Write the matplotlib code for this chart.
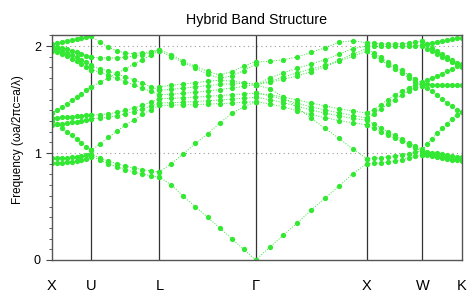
import numpy as np
import matplotlib
matplotlib.use("Agg")
import matplotlib.pyplot as plt

plt.rcParams['font.family'] = ['Liberation Sans', 'DejaVu Sans']

# High-symmetry path (FCC), labels and k coordinates (units of 2*pi/a)
point_labels = ['X', 'U', 'L', 'Γ', 'X', 'W', 'K']
point_coords = [(1, 0, 0), (1, 0.25, 0.25), (0.5, 0.5, 0.5), (0, 0, 0),
                (1, 0, 0), (1, 0.5, 0), (0.75, 0.75, 0)]

# Band frequencies (omega a / 2 pi c) read at 9 samples along each segment
seg_XU = [
    [0.905, 0.906, 0.909, 0.914, 0.920, 0.928, 0.937, 0.948, 0.960],
    [0.950, 0.951, 0.953, 0.956, 0.960, 0.965, 0.971, 0.978, 0.985],
    [1.300, 1.268, 1.235, 1.200, 1.165, 1.130, 1.095, 1.060, 1.025],
    [1.264, 1.268, 1.273, 1.279, 1.286, 1.294, 1.303, 1.312, 1.322],
    [1.327, 1.329, 1.332, 1.335, 1.339, 1.343, 1.347, 1.351, 1.355],
    [1.374, 1.400, 1.430, 1.460, 1.492, 1.523, 1.555, 1.588, 1.620],
    [2.000, 1.995, 1.985, 1.970, 1.955, 1.940, 1.925, 1.910, 1.895],
    [1.975, 1.968, 1.955, 1.937, 1.915, 1.893, 1.870, 1.848, 1.825],
    [1.950, 1.942, 1.927, 1.906, 1.881, 1.856, 1.830, 1.805, 1.780],
    [2.020, 2.028, 2.038, 2.050, 2.060, 2.070, 2.078, 2.085, 2.090],
]
seg_UL = [
    [0.970, 0.935, 0.900, 0.870, 0.845, 0.822, 0.803, 0.788, 0.776],
    [0.990, 0.955, 0.925, 0.900, 0.877, 0.860, 0.845, 0.833, 0.825],
    [1.025, 1.085, 1.145, 1.205, 1.260, 1.310, 1.360, 1.405, 1.445],
    [1.322, 1.326, 1.334, 1.348, 1.366, 1.387, 1.411, 1.438, 1.467],
    [1.355, 1.359, 1.367, 1.380, 1.398, 1.420, 1.446, 1.476, 1.508],
    [1.620, 1.662, 1.703, 1.745, 1.788, 1.830, 1.872, 1.915, 1.955],
    [1.810, 1.788, 1.765, 1.740, 1.712, 1.682, 1.652, 1.620, 1.586],
    [1.780, 1.755, 1.727, 1.698, 1.667, 1.637, 1.606, 1.576, 1.545],
    [2.090, 2.035, 1.990, 1.955, 1.935, 1.930, 1.935, 1.948, 1.965],
    [1.895, 1.890, 1.888, 1.890, 1.895, 1.905, 1.920, 1.940, 1.965],
]
seg_LG = [
    [0.776, 0.700, 0.596, 0.497, 0.400, 0.300, 0.200, 0.100, 0.000],
    [0.825, 0.900, 0.995, 1.090, 1.180, 1.277, 1.370, 1.430, 1.480],
    [1.445, 1.447, 1.450, 1.453, 1.457, 1.462, 1.467, 1.473, 1.480],
    [1.467, 1.470, 1.475, 1.481, 1.488, 1.496, 1.504, 1.512, 1.520],
    [1.508, 1.511, 1.516, 1.522, 1.529, 1.537, 1.545, 1.552, 1.560],
    [1.545, 1.550, 1.558, 1.568, 1.580, 1.593, 1.607, 1.622, 1.640],
    [1.586, 1.595, 1.606, 1.618, 1.630, 1.641, 1.648, 1.650, 1.645],
    [1.620, 1.632, 1.645, 1.658, 1.670, 1.680, 1.672, 1.658, 1.640],
    [1.965, 1.920, 1.857, 1.810, 1.763, 1.730, 1.760, 1.810, 1.855],
    [1.955, 1.900, 1.845, 1.790, 1.740, 1.700, 1.720, 1.770, 1.830],
]
seg_GX = [
    [0.000, 0.118, 0.233, 0.348, 0.466, 0.580, 0.690, 0.808, 0.900],
    [1.640, 1.600, 1.525, 1.425, 1.325, 1.230, 1.137, 1.037, 0.948],
    [1.480, 1.460, 1.430, 1.395, 1.360, 1.330, 1.303, 1.282, 1.264],
    [1.520, 1.500, 1.470, 1.437, 1.403, 1.372, 1.347, 1.324, 1.306],
    [1.560, 1.535, 1.500, 1.465, 1.432, 1.402, 1.375, 1.350, 1.327],
    [1.560, 1.545, 1.522, 1.496, 1.467, 1.440, 1.414, 1.392, 1.374],
    [1.850, 1.857, 1.872, 1.897, 1.940, 1.985, 2.035, 2.050, 2.030],
    [1.640, 1.700, 1.750, 1.792, 1.832, 1.872, 1.925, 1.975, 2.000],
    [1.640, 1.670, 1.710, 1.750, 1.785, 1.820, 1.865, 1.925, 1.975],
    [1.640, 1.660, 1.690, 1.720, 1.760, 1.808, 1.858, 1.905, 1.950],
]
seg_XW = [
    [0.900, 0.903, 0.908, 0.915, 0.925, 0.938, 0.952, 0.968, 0.985],
    [0.948, 0.951, 0.956, 0.963, 0.972, 0.983, 0.995, 1.008, 1.020],
    [1.264, 1.234, 1.200, 1.170, 1.140, 1.110, 1.077, 1.047, 1.016],
    [1.306, 1.270, 1.235, 1.200, 1.165, 1.130, 1.097, 1.065, 1.035],
    [1.374, 1.405, 1.450, 1.498, 1.545, 1.577, 1.607, 1.638, 1.654],
    [1.327, 1.365, 1.410, 1.455, 1.500, 1.540, 1.575, 1.605, 1.625],
    [2.000, 1.998, 1.996, 1.996, 1.996, 1.996, 1.998, 2.002, 2.010],
    [1.975, 1.935, 1.893, 1.852, 1.812, 1.772, 1.733, 1.693, 1.654],
    [1.950, 1.910, 1.868, 1.827, 1.786, 1.745, 1.705, 1.665, 1.625],
    [2.030, 2.025, 2.020, 2.018, 2.018, 2.020, 2.025, 2.033, 2.045],
]
seg_WK = [
    [2.010, 2.020, 2.030, 2.040, 2.050, 2.058, 2.065, 2.072, 2.078],
    [2.000, 1.975, 1.950, 1.925, 1.900, 1.875, 1.850, 1.828, 1.805],
    [2.045, 2.015, 1.985, 1.955, 1.925, 1.897, 1.870, 1.845, 1.822],
    [1.660, 1.680, 1.700, 1.720, 1.742, 1.765, 1.788, 1.810, 1.830],
    [1.650, 1.645, 1.640, 1.638, 1.636, 1.635, 1.635, 1.635, 1.635],
    [1.640, 1.610, 1.575, 1.540, 1.505, 1.470, 1.435, 1.405, 1.380],
    [1.030, 1.085, 1.135, 1.185, 1.230, 1.275, 1.320, 1.355, 1.380],
    [1.020, 1.012, 1.004, 0.996, 0.988, 0.980, 0.972, 0.965, 0.960],
    [0.995, 0.987, 0.979, 0.971, 0.963, 0.955, 0.948, 0.942, 0.937],
    [0.985, 0.978, 0.970, 0.962, 0.953, 0.944, 0.936, 0.930, 0.925],
]
segments = [seg_XU, seg_UL, seg_LG, seg_GX, seg_XW, seg_WK]

# Path positions from k-space distances
pts = np.array(point_coords, dtype=float)
dist = np.concatenate([[0], np.cumsum(np.linalg.norm(np.diff(pts, axis=0), axis=1))])

green = '#33e833'
fig = plt.figure(figsize=(4.68, 2.93), dpi=100)
ax = fig.add_axes([52 / 468, 1 - 260 / 293, (461.7 - 52) / 468, (260 - 35) / 293])

for i, seg in enumerate(segments):
    for band in seg:
        xs = np.linspace(dist[i], dist[i + 1], len(band))
        ax.plot(xs, band, linestyle=':', linewidth=0.7, color=green,
                marker='o', markersize=3.8, markerfacecolor=green,
                markeredgecolor=green, markeredgewidth=0, clip_on=True)

for d in dist[1:-1]:
    ax.axvline(d, color='#333333', linewidth=0.9, zorder=1)
for yv in (1, 2):
    ax.axhline(yv, color='#999999', linewidth=0.8, linestyle=(0, (1, 3)), zorder=0)

ax.set_xlim(dist[0], dist[-1])
ax.set_ylim(0, 2.103)
ax.set_xticks(dist)
ax.set_xticklabels(point_labels, fontsize=10.5)
ax.tick_params(axis='x', length=0, pad=14)
ax.set_yticks([0, 1, 2])
ax.set_yticks(np.arange(0, 2.11, 0.1), minor=True)
ax.tick_params(axis='y', which='major', direction='out', length=4, labelsize=9, pad=4, color='#444444')
ax.tick_params(axis='y', which='minor', direction='out', length=2.5, color='#444444')
for s in ax.spines.values():
    s.set_color('#555555')
    s.set_linewidth(1.0)

fig.text((52 + 461.7) / 2 / 468, 1 - 20 / 293, 'Hybrid Band Structure',
         ha='center', va='center', fontsize=10.3)
fig.text(18 / 468, 1 - 140 / 293, 'Frequency (ωa/2πc=a/λ)', rotation=90,
         ha='center', va='center', fontsize=8.5)

fig.savefig('out.png', dpi=100)
